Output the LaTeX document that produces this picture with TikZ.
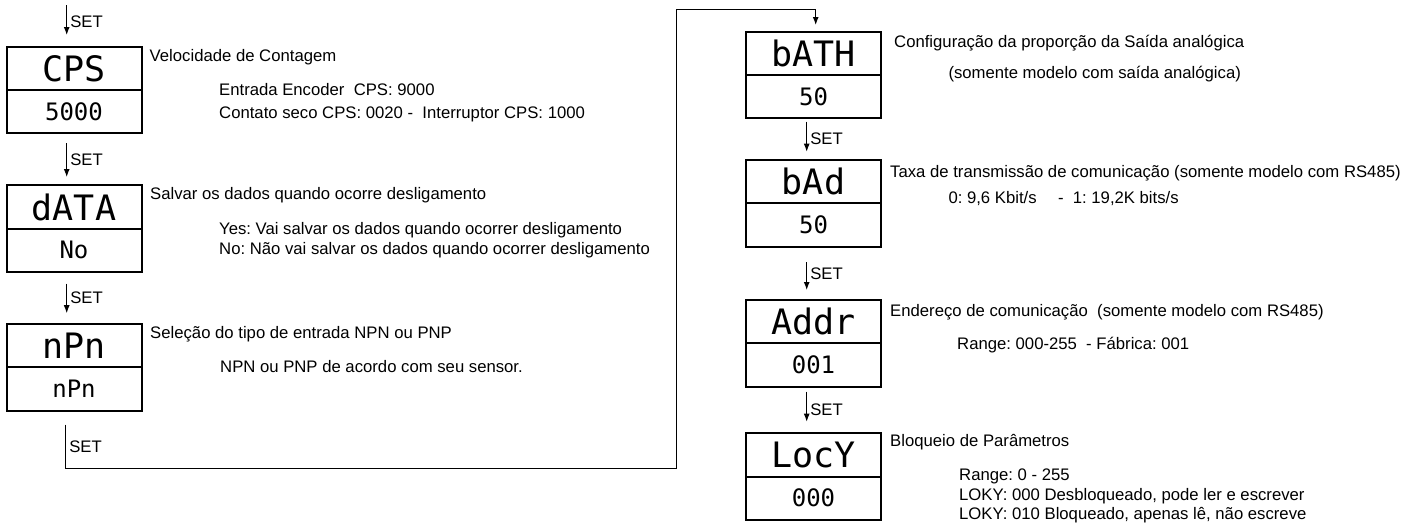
\documentclass[tikz,border=0pt]{standalone}
\usepackage{fontspec}
\setmainfont{Liberation Sans}
\newfontfamily\segfont{DejaVu Sans Mono}
\usepackage{tikz}
\usetikzlibrary{positioning,arrows.meta}
\frenchspacing

\begin{document}
\begin{tikzpicture}[
      x=1pt, y=1pt,
      font=\fontsize{16.7}{21}\selectfont,
      display/.style={draw, line width=2pt, minimum width=135pt,
                      minimum height=43.3pt, inner sep=0pt, outer sep=0pt},
      keyname/.style={display, font=\segfont\fontsize{35}{35}\selectfont},
      keyval/.style={display, font=\segfont\fontsize{24}{24}\selectfont},
      title/.style={anchor=base west, inner sep=0pt},
      info/.style={anchor=north west, inner sep=0pt, align=left},
      arrow/.style={-{Latex[length=8pt,width=6pt]}, line width=1.1pt},
      setlabel/.style={right, inner sep=3pt}
    ]
      \useasboundingbox (0,0) rectangle (1421,-522);

      % left column
      \node[keyname] (cps) at (74,-68.35) {CPS};
      \node[keyval, below=0pt of cps] (cps-val) {5000};
      \node[keyname, below=52pt of cps-val] (data) {dATA};
      \node[keyval, below=0pt of data] (data-val) {No};
      \node[keyname, below=52pt of data-val] (npn) {nPn};
      \node[keyval, below=0pt of npn] (npn-val) {nPn};

      % right column
      \node[keyname] (bath) at (813.5,-53.35) {bATH};
      \node[keyval, below=0pt of bath] (bath-val) {50};
      \node[keyname, below=41.7pt of bath-val] (bad) {bAd};
      \node[keyval, below=0pt of bad] (bad-val) {50};
      \node[keyname, below=53.4pt of bad-val] (addr) {Addr};
      \node[keyval, below=0pt of addr] (addr-val) {001};
      \node[keyname, below=46.7pt of addr-val] (locy) {LocY};
      \node[keyval, below=0pt of locy] (locy-val) {000};

      % descriptions
      \node[title] (cps-title) at ([xshift=8pt, yshift=-14.3pt]cps.north east) {Velocidade de Contagem};
      \node[info, font=\fontsize{16.7}{22.7}\selectfont] (cps-info) at ([xshift=77.5pt, yshift=-36.3pt]cps.north east)
        {Entrada Encoder~ CPS: 9000\\Contato seco CPS: 0020 -~ Interruptor CPS: 1000};
      \node[title] (data-title) at ([xshift=8.5pt, yshift=-14.3pt]data.north east) {Salvar os dados quando ocorre desligamento};
      \node[info, font=\fontsize{16.7}{20}\selectfont] (data-info) at ([xshift=77.5pt, yshift=-37.3pt]data.north east)
        {Yes: Vai salvar os dados quando ocorrer desligamento\\No: Não vai salvar os dados quando ocorrer desligamento};
      \node[title] (npn-title) at ([xshift=8.5pt, yshift=-14.3pt]npn.north east) {Seleção do tipo de entrada NPN ou PNP};
      \node[info] (npn-info) at ([xshift=78.5pt, yshift=-36pt]npn.north east) {NPN ou PNP de acordo com seu sensor.};

      \node[title] (bath-title) at ([xshift=13pt, yshift=-16pt]bath.north east) {Configuração da proporção da Saída analógica};
      \node[info] (bath-info) at ([xshift=67.3pt, yshift=-34pt]bath.north east) {(somente modelo com saída analógica)};
      \node[title] (bad-title) at ([xshift=9pt, yshift=-17.7pt]bad.north east) {Taxa de transmissão de comunicação (somente modelo com RS485)};
      \node[info] (bad-info) at ([xshift=67.3pt, yshift=-30.7pt]bad.north east) {0: 9,6 Kbit/s \quad -~ 1: 19,2K bits/s};
      \node[title] (addr-title) at ([xshift=9pt, yshift=-16pt]addr.north east) {Endereço de comunicação~ (somente modelo com RS485)};
      \node[info] (addr-info) at ([xshift=76pt, yshift=-37.3pt]addr.north east) {Range: 000-255~ - Fábrica: 001};
      \node[title] (locy-title) at ([xshift=9pt, yshift=-12.7pt]locy.north east) {Bloqueio de Parâmetros};
      \node[info, font=\fontsize{16.7}{19.3}\selectfont] (locy-info) at ([xshift=78pt, yshift=-35.7pt]locy.north east)
        {Range: 0 - 255\\LOKY: 000 Desbloqueado, pode ler e escrever\\LOKY: 010 Bloqueado, apenas lê, não escreve};

      % SET steps
      \coordinate (start) at (66.7,-5);
      \coordinate (turn) at (676.7,-9.3);
      \draw[arrow, shorten >=11.7pt] (start) -- node[setlabel, pos=0.4] {SET} ([xshift=-7.3pt]cps.north);
      \draw[arrow, shorten <=10pt, shorten >=8.3pt] ([xshift=-7.3pt]cps-val.south) -- node[setlabel] {SET} ([xshift=-7.3pt]data.north);
      \draw[arrow, shorten <=11.7pt, shorten >=10.7pt] ([xshift=-7.3pt]data-val.south) -- node[setlabel] {SET} ([xshift=-7.3pt]npn.north);
      \draw[arrow, shorten <=14pt, shorten >=6.7pt] ([xshift=-8.3pt]npn-val.south)
        -- node[setlabel, pos=0.62] {SET} ++(0,-58) -| (turn) -| ([xshift=2.2pt]bath.north);
      \draw[arrow, shorten <=3.4pt, shorten >=8.3pt] ([xshift=-6.8pt]bath-val.south) -- node[setlabel] {SET} ([xshift=-6.8pt]bad.north);
      \draw[arrow, shorten <=15.4pt, shorten >=10pt] ([xshift=-6.8pt]bad-val.south) -- node[setlabel] {SET} ([xshift=-6.8pt]addr.north);
      \draw[arrow, shorten <=5pt, shorten >=11.6pt] ([xshift=-6.8pt]addr-val.south) -- node[setlabel] {SET} ([xshift=-6.8pt]locy.north);
    \end{tikzpicture}
\end{document}
